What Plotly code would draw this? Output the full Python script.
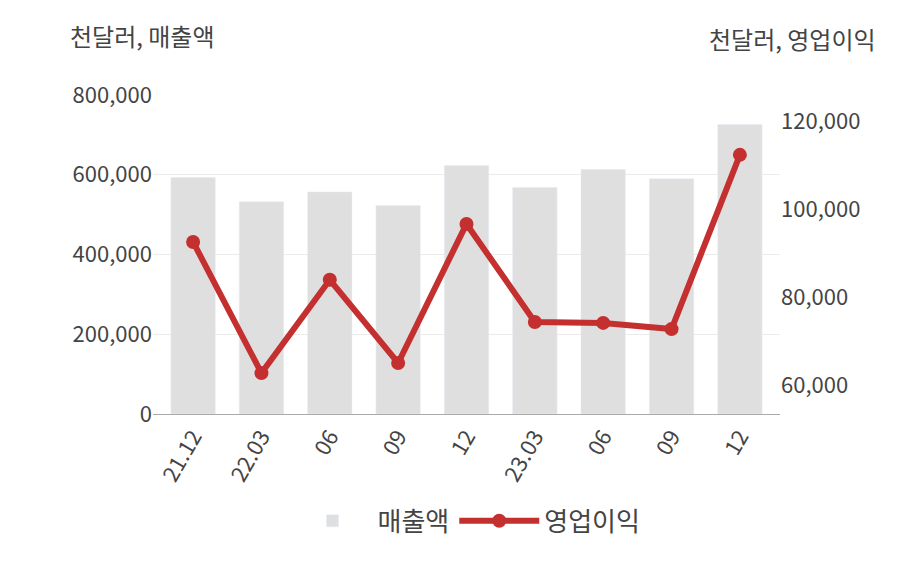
import plotly.graph_objects as go

periods = ["21.12", "22.03", "06", "09", "12", "23.03", "06 ", "09 ", "12 "]
tick_text = ["21.12", "22.03", "06", "09", "12", "23.03", "06", "09", "12"]
sales = [593000, 532000, 557000, 523000, 623000, 568000, 613000, 590000, 726000]
op_profit = [92500, 62700, 83900, 65000, 96600, 74300, 74100, 72700, 112300]

font = "Noto Sans CJK KR"
fig = go.Figure()
fig.add_bar(x=periods, y=sales, name="매출액", marker_color="#dfdfdf", width=0.65)
fig.add_scatter(x=periods, y=op_profit, name="영업이익", yaxis="y2",
                mode="lines+markers", line=dict(color="#c3302f", width=6),
                marker=dict(size=14, color="#c3302f"))

fig.update_layout(
    width=908, height=580,
    paper_bgcolor="white", plot_bgcolor="white",
    font=dict(family=font, size=22, color="#444"),
    margin=dict(l=145, r=136, t=87, b=174, autoexpand=False),
    bargap=0.35,
    showlegend=True,
    legend=dict(orientation="h", x=0.5, xanchor="center", y=-0.335, yanchor="middle",
                font=dict(size=26), itemwidth=80, tracegroupgap=40),
    xaxis=dict(tickmode="array", tickvals=periods, ticktext=tick_text,
               tickangle=-60, showline=True, linecolor="#aaa", ticks=""),
    yaxis=dict(range=[0, 800000], tickvals=[0, 200000, 400000, 600000, 800000],
               tickformat=",", gridcolor="#ebebeb", zeroline=False),
    yaxis2=dict(range=[53400, 125900], tickvals=[60000, 80000, 100000, 120000],
                tickformat=",", overlaying="y", side="right", showgrid=False),
    annotations=[
        dict(text="천달러, 매출액", x=-0.136, y=1.185, xref="paper", yref="paper",
             showarrow=False, font=dict(size=24), xanchor="left", yanchor="middle"),
        dict(text="천달러, 영업이익", x=1.156, y=1.176, xref="paper", yref="paper",
             showarrow=False, font=dict(size=24), xanchor="right", yanchor="middle"),
    ],
)

fig.write_html("out.html")
